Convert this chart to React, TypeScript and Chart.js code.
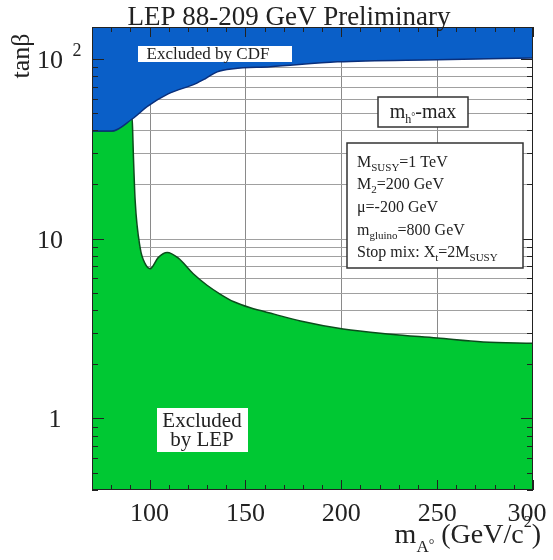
import React, { useEffect, useRef } from "react";
import { Chart, registerables } from "chart.js";
Chart.register(...registerables);

// CDF excluded region: lower boundary (fill to top)
const cdfMass = [70, 80.4, 90.9, 99.3, 109.7, 123.8, 129, 135.3, 143.7, 163, 198, 250, 300];
const cdfTanB = [39.6, 39.6, 46.2, 54.6, 63.7, 72.4, 77.3, 84.5, 88, 90.2, 96, 98.7, 101];

// LEP excluded region: upper boundary (fill to bottom)
const lepMass = [70, 80.4, 90.9, 91.2, 91.5, 92.5, 95.1, 97.7, 100.3, 104.5, 109.2, 114.9, 122.8, 130, 137, 144, 152.6, 165, 178.7, 201, 225.7, 250, 274, 300];
const lepTanB = [39.6, 39.6, 47, 40, 31, 16.3, 8.9, 7.25, 6.8, 7.83, 8.36, 7.8, 6.37, 5.5, 4.9, 4.45, 4.12, 3.8, 3.48, 3.14, 2.94, 2.8, 2.66, 2.62];

const xTickLabels = ["100", "150", "200", "250", "300"];
const xTickValues = [100, 150, 200, 250, 300];
const xGridValues = [100, 150, 200, 250];
const yGridValues = [2, 3, 4, 5, 6, 7, 8, 9, 10, 20, 30, 40, 50, 60, 70, 80, 90];
const yTickValues = [1, 10, 100];

const SERIF = "'Liberation Serif', 'DejaVu Serif', serif";

type Part = { t: string; size: number; dy?: number };

function drawParts(ctx: CanvasRenderingContext2D, parts: Part[], x: number, y: number, align: "left" | "right" | "center") {
  let total = 0;
  for (const p of parts) {
    ctx.font = `${p.size}px ${SERIF}`;
    total += ctx.measureText(p.t).width;
  }
  let cx = align === "left" ? x : align === "right" ? x - total : x - total / 2;
  ctx.textAlign = "left";
  ctx.textBaseline = "alphabetic";
  for (const p of parts) {
    ctx.font = `${p.size}px ${SERIF}`;
    ctx.fillText(p.t, cx, y + (p.dy || 0));
    cx += ctx.measureText(p.t).width;
  }
}

const decorPlugin = {
  id: "decor",
  beforeDatasetsDraw(chart: any) {
    const { ctx, chartArea: a, scales } = chart;
    const x = scales.x, y = scales.y;
    ctx.save();
    ctx.strokeStyle = "#8a8a8a";
    ctx.lineWidth = 1;
    for (const v of xGridValues) {
      const px = Math.round(x.getPixelForValue(v)) + 0.5;
      ctx.beginPath(); ctx.moveTo(px, a.top); ctx.lineTo(px, a.bottom); ctx.stroke();
    }
    ctx.strokeStyle = "#a0a0a0";
    for (const v of yGridValues) {
      const py = Math.round(y.getPixelForValue(v)) + 0.5;
      ctx.beginPath(); ctx.moveTo(a.left, py); ctx.lineTo(a.right, py); ctx.stroke();
    }
    ctx.restore();
  },
  afterDraw(chart: any) {
    const { ctx, chartArea: a, scales } = chart;
    const x = scales.x, y = scales.y;
    ctx.save();
    // frame
    ctx.strokeStyle = "#222";
    ctx.lineWidth = 1;
    ctx.strokeRect(a.left + 0.5, a.top + 0.5, a.right - a.left - 1, a.bottom - a.top - 1);
    // axis ticks (inward)
    ctx.beginPath();
    for (let v = 70; v <= 300; v += 10) {
      const px = Math.round(x.getPixelForValue(v)) + 0.5;
      const len = v % 50 === 0 ? 10 : 5;
      ctx.moveTo(px, a.bottom); ctx.lineTo(px, a.bottom - len);
      ctx.moveTo(px, a.top); ctx.lineTo(px, a.top + len);
    }
    const logs = [0.4, 0.5, 0.6, 0.7, 0.8, 0.9, 1, 2, 3, 4, 5, 6, 7, 8, 9, 10, 20, 30, 40, 50, 60, 70, 80, 90, 100];
    for (const v of logs) {
      const py = Math.round(y.getPixelForValue(v)) + 0.5;
      const len = yTickValues.includes(v) ? 12 : 6;
      ctx.moveTo(a.left, py); ctx.lineTo(a.left + len, py);
      ctx.moveTo(a.right, py); ctx.lineTo(a.right - len, py);
    }
    ctx.stroke();

    ctx.fillStyle = "#222";
    // x tick labels
    ctx.font = `26px ${SERIF}`;
    ctx.textAlign = "center";
    ctx.textBaseline = "alphabetic";
    xTickValues.forEach((v, i) => {
      ctx.fillText(xTickLabels[i], x.getPixelForValue(v) - (v === 300 ? 6 : 0), 521);
    });
    // y tick labels
    const y1 = y.getPixelForValue(1), y10 = y.getPixelForValue(10), y100 = y.getPixelForValue(100);
    ctx.textAlign = "center";
    ctx.font = `26px ${SERIF}`;
    ctx.fillText("1", 55, y1 + 9);
    ctx.fillText("10", 50, y10 + 9);
    ctx.fillText("10", 50, y100 + 9);
    ctx.font = `18px ${SERIF}`;
    ctx.fillText("2", 77, y100 - 3);

    // title
    ctx.font = `27px ${SERIF}`;
    ctx.textAlign = "center";
    ctx.fillText("LEP 88-209 GeV Preliminary", 289, 25);

    // y title rotated
    ctx.save();
    ctx.translate(29, 56);
    ctx.rotate(-Math.PI / 2);
    ctx.font = `26px ${SERIF}`;
    ctx.textAlign = "center";
    ctx.fillText("tanβ", 0, 0);
    ctx.restore();

    // x title
    drawParts(ctx, [
      { t: "m", size: 28 },
      { t: "A", size: 17, dy: 9 },
      { t: "°", size: 14, dy: 6 },
      { t: " (GeV/c", size: 28 },
      { t: "2", size: 16, dy: -16 },
      { t: ")", size: 28 },
    ], 541, 543, "right");

    // Excluded by CDF
    ctx.fillStyle = "#fff";
    ctx.fillRect(138, 46, 154, 16);
    ctx.fillStyle = "#222";
    ctx.font = `17px ${SERIF}`;
    ctx.textAlign = "center";
    ctx.fillText("Excluded by CDF", 208, 59);

    // Excluded by LEP
    ctx.fillStyle = "#fff";
    ctx.fillRect(157, 408, 91, 44);
    ctx.fillStyle = "#222";
    ctx.font = `21px ${SERIF}`;
    ctx.textAlign = "center";
    ctx.fillText("Excluded", 202, 427);
    ctx.fillText("by LEP", 202, 446);

    // m_h-max box
    ctx.fillStyle = "#fff";
    ctx.fillRect(378, 97, 90, 30);
    ctx.strokeStyle = "#333";
    ctx.lineWidth = 1.5;
    ctx.strokeRect(378, 97, 90, 30);
    ctx.fillStyle = "#222";
    drawParts(ctx, [
      { t: "m", size: 20 },
      { t: "h", size: 12, dy: 5 },
      { t: "°", size: 10, dy: 2 },
      { t: "-max", size: 20 },
    ], 423, 118, "center");

    // parameters box
    ctx.fillStyle = "#fff";
    ctx.fillRect(347, 143, 176, 125);
    ctx.strokeRect(347, 143, 176, 125);
    ctx.fillStyle = "#222";
    const L = 357;
    drawParts(ctx, [{ t: "M", size: 16 }, { t: "SUSY", size: 11, dy: 4 }, { t: "=1 TeV", size: 16 }], L, 167, "left");
    drawParts(ctx, [{ t: "M", size: 16 }, { t: "2", size: 11, dy: 4 }, { t: "=200 GeV", size: 16 }], L, 189, "left");
    drawParts(ctx, [{ t: "μ=-200 GeV", size: 16 }], L, 212, "left");
    drawParts(ctx, [{ t: "m", size: 16 }, { t: "gluino", size: 11, dy: 4 }, { t: "=800 GeV", size: 16 }], L, 235, "left");
    drawParts(ctx, [{ t: "Stop mix: X", size: 16 }, { t: "t", size: 11, dy: 4 }, { t: "=2M", size: 16 }, { t: "SUSY", size: 11, dy: 4 }], L, 257, "left");

    ctx.restore();
  },
};

export default function App() {
  const ref = useRef<HTMLCanvasElement | null>(null);
  useEffect(() => {
    if (!ref.current) return;
    const chart = new Chart(ref.current, {
      type: "line",
      data: {
        datasets: [
          {
            label: "Excluded by CDF",
            data: cdfMass.map((m, i) => ({ x: m, y: cdfTanB[i] })),
            borderColor: "#0a2f7a",
            borderWidth: 1.5,
            backgroundColor: "#0a5fc8",
            fill: "end",
            pointRadius: 0,
            cubicInterpolationMode: "monotone",
          },
          {
            label: "Excluded by LEP",
            data: lepMass.map((m, i) => ({ x: m, y: lepTanB[i] })),
            borderColor: "#0b4d1c",
            borderWidth: 1.5,
            backgroundColor: "#00c833",
            fill: "start",
            pointRadius: 0,
            cubicInterpolationMode: "monotone",
          },
        ],
      },
      options: {
        responsive: false,
        animation: false,
        layout: { padding: { left: 92, top: 27, right: 20, bottom: 70 } },
        plugins: { legend: { display: false }, tooltip: { enabled: false } },
        scales: {
          x: { type: "linear", min: 70, max: 300, display: false },
          y: { type: "logarithmic", min: 0.4, max: 150, display: false },
        },
      },
      plugins: [decorPlugin],
    } as any);
    return () => chart.destroy();
  }, []);
  return (
    <div style={{ position: "fixed", left: 0, top: 0, width: 553, height: 560, background: "#fff" }}>
      <canvas ref={ref} width={553} height={560} />
    </div>
  );
}
